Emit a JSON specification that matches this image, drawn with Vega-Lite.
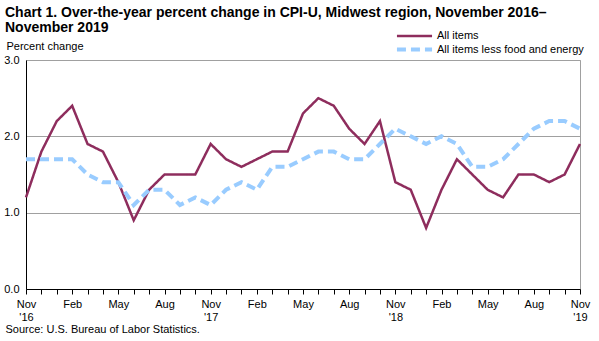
{
  "$schema": "https://vega.github.io/schema/vega-lite/v6.json",
  "width": 554,
  "height": 229,
  "autosize": {"type": "none"},
  "padding": {"left": 26, "top": 60, "right": 19, "bottom": 52},
  "background": "white",
  "config": {
    "font": "Liberation Sans",
    "view": {"stroke": "#a0a0a0", "strokeWidth": 1},
    "axis": {"labelFont": "Liberation Sans", "titleFont": "Liberation Sans", "labelColor": "#000", "titleColor": "#000"}
  },
  "title": {
    "text": ["Chart 1. Over-the-year percent change in CPI-U, Midwest region, November 2016–", "November 2019"],
    "anchor": "start",
    "frame": "group",
    "font": "Liberation Sans",
    "fontSize": 14,
    "fontWeight": "bold",
    "color": "#000",
    "lineHeight": 15,
    "dx": -21,
    "offset": 0,
    "dy": 7
  },
  "datasets": {
    "cpi": [
      {"m": "Nov 2016", "s": "All items", "v": 1.2},
      {"m": "Dec 2016", "s": "All items", "v": 1.8},
      {"m": "Jan 2017", "s": "All items", "v": 2.2},
      {"m": "Feb 2017", "s": "All items", "v": 2.4},
      {"m": "Mar 2017", "s": "All items", "v": 1.9},
      {"m": "Apr 2017", "s": "All items", "v": 1.8},
      {"m": "May 2017", "s": "All items", "v": 1.4},
      {"m": "Jun 2017", "s": "All items", "v": 0.9},
      {"m": "Jul 2017", "s": "All items", "v": 1.3},
      {"m": "Aug 2017", "s": "All items", "v": 1.5},
      {"m": "Sep 2017", "s": "All items", "v": 1.5},
      {"m": "Oct 2017", "s": "All items", "v": 1.5},
      {"m": "Nov 2017", "s": "All items", "v": 1.9},
      {"m": "Dec 2017", "s": "All items", "v": 1.7},
      {"m": "Jan 2018", "s": "All items", "v": 1.6},
      {"m": "Feb 2018", "s": "All items", "v": 1.7},
      {"m": "Mar 2018", "s": "All items", "v": 1.8},
      {"m": "Apr 2018", "s": "All items", "v": 1.8},
      {"m": "May 2018", "s": "All items", "v": 2.3},
      {"m": "Jun 2018", "s": "All items", "v": 2.5},
      {"m": "Jul 2018", "s": "All items", "v": 2.4},
      {"m": "Aug 2018", "s": "All items", "v": 2.1},
      {"m": "Sep 2018", "s": "All items", "v": 1.9},
      {"m": "Oct 2018", "s": "All items", "v": 2.2},
      {"m": "Nov 2018", "s": "All items", "v": 1.4},
      {"m": "Dec 2018", "s": "All items", "v": 1.3},
      {"m": "Jan 2019", "s": "All items", "v": 0.8},
      {"m": "Feb 2019", "s": "All items", "v": 1.3},
      {"m": "Mar 2019", "s": "All items", "v": 1.7},
      {"m": "Apr 2019", "s": "All items", "v": 1.5},
      {"m": "May 2019", "s": "All items", "v": 1.3},
      {"m": "Jun 2019", "s": "All items", "v": 1.2},
      {"m": "Jul 2019", "s": "All items", "v": 1.5},
      {"m": "Aug 2019", "s": "All items", "v": 1.5},
      {"m": "Sep 2019", "s": "All items", "v": 1.4},
      {"m": "Oct 2019", "s": "All items", "v": 1.5},
      {"m": "Nov 2019", "s": "All items", "v": 1.9},
      {"m": "Nov 2016", "s": "All items less food and energy", "v": 1.7},
      {"m": "Dec 2016", "s": "All items less food and energy", "v": 1.7},
      {"m": "Jan 2017", "s": "All items less food and energy", "v": 1.7},
      {"m": "Feb 2017", "s": "All items less food and energy", "v": 1.7},
      {"m": "Mar 2017", "s": "All items less food and energy", "v": 1.5},
      {"m": "Apr 2017", "s": "All items less food and energy", "v": 1.4},
      {"m": "May 2017", "s": "All items less food and energy", "v": 1.4},
      {"m": "Jun 2017", "s": "All items less food and energy", "v": 1.1},
      {"m": "Jul 2017", "s": "All items less food and energy", "v": 1.3},
      {"m": "Aug 2017", "s": "All items less food and energy", "v": 1.3},
      {"m": "Sep 2017", "s": "All items less food and energy", "v": 1.1},
      {"m": "Oct 2017", "s": "All items less food and energy", "v": 1.2},
      {"m": "Nov 2017", "s": "All items less food and energy", "v": 1.1},
      {"m": "Dec 2017", "s": "All items less food and energy", "v": 1.3},
      {"m": "Jan 2018", "s": "All items less food and energy", "v": 1.4},
      {"m": "Feb 2018", "s": "All items less food and energy", "v": 1.3},
      {"m": "Mar 2018", "s": "All items less food and energy", "v": 1.6},
      {"m": "Apr 2018", "s": "All items less food and energy", "v": 1.6},
      {"m": "May 2018", "s": "All items less food and energy", "v": 1.7},
      {"m": "Jun 2018", "s": "All items less food and energy", "v": 1.8},
      {"m": "Jul 2018", "s": "All items less food and energy", "v": 1.8},
      {"m": "Aug 2018", "s": "All items less food and energy", "v": 1.7},
      {"m": "Sep 2018", "s": "All items less food and energy", "v": 1.7},
      {"m": "Oct 2018", "s": "All items less food and energy", "v": 1.9},
      {"m": "Nov 2018", "s": "All items less food and energy", "v": 2.1},
      {"m": "Dec 2018", "s": "All items less food and energy", "v": 2.0},
      {"m": "Jan 2019", "s": "All items less food and energy", "v": 1.9},
      {"m": "Feb 2019", "s": "All items less food and energy", "v": 2.0},
      {"m": "Mar 2019", "s": "All items less food and energy", "v": 1.9},
      {"m": "Apr 2019", "s": "All items less food and energy", "v": 1.6},
      {"m": "May 2019", "s": "All items less food and energy", "v": 1.6},
      {"m": "Jun 2019", "s": "All items less food and energy", "v": 1.7},
      {"m": "Jul 2019", "s": "All items less food and energy", "v": 1.9},
      {"m": "Aug 2019", "s": "All items less food and energy", "v": 2.1},
      {"m": "Sep 2019", "s": "All items less food and energy", "v": 2.2},
      {"m": "Oct 2019", "s": "All items less food and energy", "v": 2.2},
      {"m": "Nov 2019", "s": "All items less food and energy", "v": 2.1}
    ]
  },
  "data": {"name": "cpi"},
  "mark": {"type": "line", "strokeJoin": "miter"},
  "encoding": {
    "x": {
      "field": "m",
      "type": "ordinal",
      "sort": null,
      "scale": {"type": "point", "padding": 0},
      "axis": {
        "title": "Source: U.S. Bureau of Labor Statistics.",
        "titleFontSize": 11,
        "titleFontWeight": "normal",
        "titleAnchor": "start",
        "titleAlign": "left",
        "titleX": -21,
        "titleY": 43,
        "titleBaseline": "alphabetic",
        "domainColor": "#000",
        "domainWidth": 1,
        "tickColor": "#000",
        "tickSize": 5,
        "tickWidth": 1,
        "labelAngle": 0,
        "labelFontSize": 11,
        "labelPadding": 4,
        "labelOverlap": false,
        "labelLineHeight": 13,
        "labelExpr": "indexof(['Feb','May','Aug'], split(datum.value,' ')[0]) >= 0 ? split(datum.value,' ')[0] : (split(datum.value,' ')[0] == 'Nov' ? ['Nov', \"'\" + substring(split(datum.value,' ')[1], 2, 4)] : '')",
        "grid": false
      }
    },
    "y": {
      "field": "v",
      "type": "quantitative",
      "scale": {"domain": [0, 3]},
      "axis": {
        "title": "Percent change",
        "titleAngle": 0,
        "titleFontSize": 11,
        "titleFontWeight": "normal",
        "titleAlign": "left",
        "titleBaseline": "alphabetic",
        "titleX": -20,
        "titleY": -11,
        "values": [0, 1, 2, 3],
        "format": ".1f",
        "labelFontSize": 11,
        "labelPadding": 7,
        "ticks": false,
        "domainColor": "#000",
        "gridColor": "#a0a0a0",
        "gridWidth": 1
      }
    },
    "color": {
      "field": "s",
      "type": "nominal",
      "scale": {"domain": ["All items", "All items less food and energy"], "range": ["#8e2d5d", "#99ccff"]},
      "legend": {
        "title": null,
        "orient": "none",
        "legendX": 380,
        "legendY": -32,
        "symbolType": "M-2.7,0H2.7",
        "symbolSize": 169,
        "symbolStrokeWidth": 3,
        "labelFontSize": 11,
        "labelColor": "#000",
        "labelOffset": 14,
        "rowPadding": 0
      }
    },
    "strokeDash": {
      "field": "s",
      "type": "nominal",
      "scale": {"domain": ["All items", "All items less food and energy"], "range": [[1, 0], [9, 5]]},
      "legend": null
    },
    "strokeWidth": {
      "field": "s",
      "type": "nominal",
      "scale": {"domain": ["All items", "All items less food and energy"], "range": [2.5, 4]},
      "legend": null
    }
  }
}
